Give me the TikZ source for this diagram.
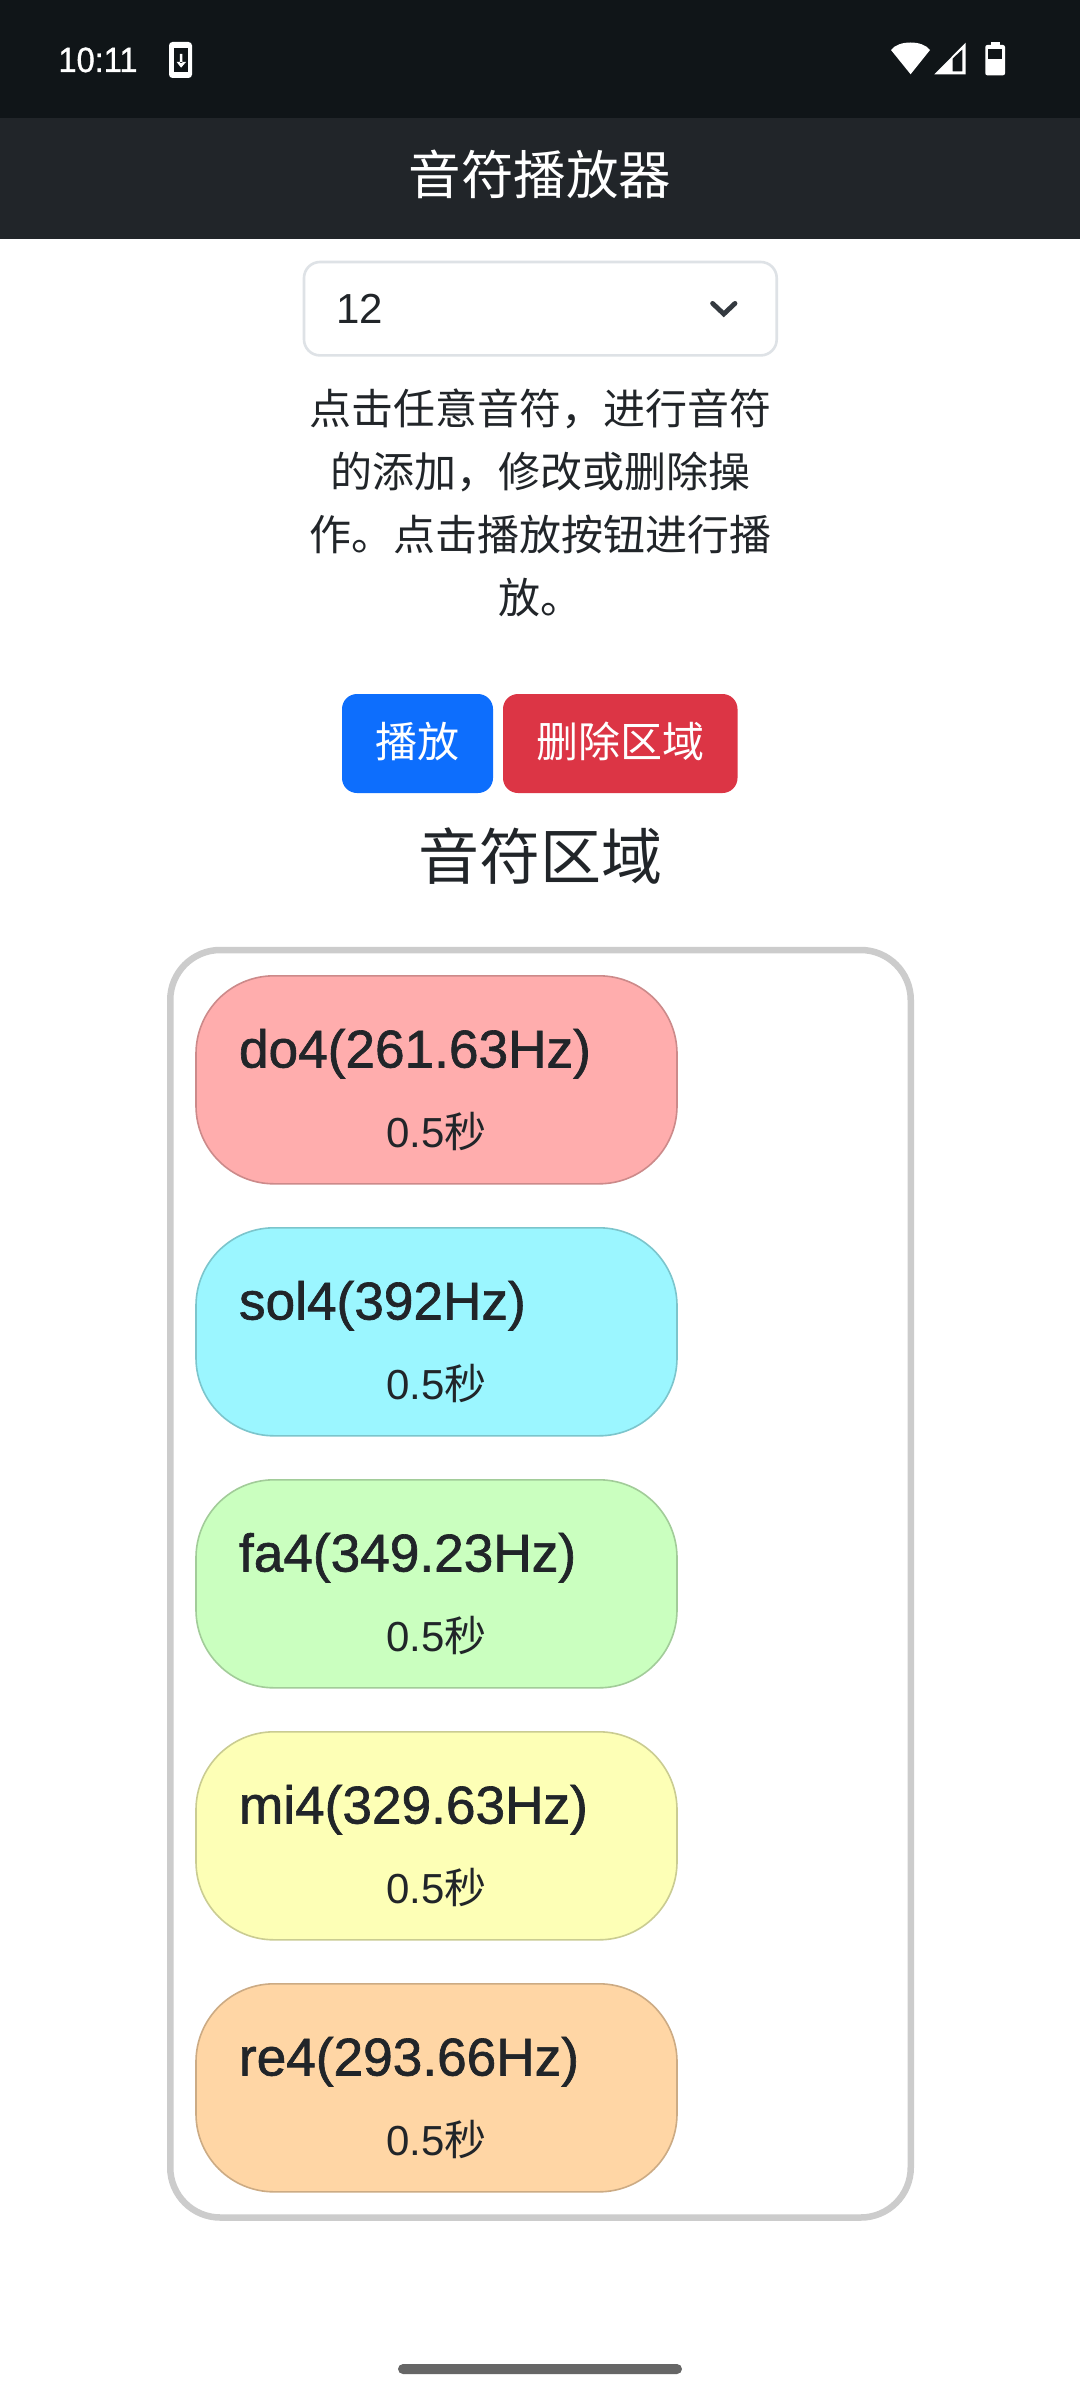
\documentclass[tikz,border=0pt]{standalone}
\usepackage{fontspec}
\usepackage{graphicx}
\setmainfont{Liberation Sans}
\newfontfamily\cjk{Noto Sans CJK SC}
\newfontfamily\notefont[FakeBold=1.2]{Liberation Sans}
\newfontfamily\clockfont[FakeBold=1]{Liberation Sans}
\definecolor{ink}{HTML}{212529}
\definecolor{statusbg}{HTML}{101518}
\definecolor{appbg}{HTML}{212529}
\definecolor{selborder}{HTML}{DEE2E6}
\definecolor{chev}{HTML}{343A40}
\definecolor{btnblue}{HTML}{0D6EFD}
\definecolor{btnred}{HTML}{DC3545}
\definecolor{frame}{HTML}{CCCCCC}
\definecolor{homebar}{HTML}{666666}
\definecolor{pa}{HTML}{FFADAD}
\definecolor{pb}{HTML}{9BF6FF}
\definecolor{pc}{HTML}{CAFFBF}
\definecolor{pd}{HTML}{FDFFB6}
\definecolor{pe}{HTML}{FFD6A5}
\tikzset{
  txt/.style={inner sep=0pt,outer sep=0pt},
  body/.style={txt,anchor=base,text=ink,font=\fontsize{42}{50}\selectfont\cjk},
  pill/.style={rectangle,draw=#1!80!black,fill=#1,line width=1.6pt,rounded corners=78pt,minimum width=481pt,minimum height=208pt,anchor=north west,inner sep=0pt,outer sep=0pt},
  notename/.style={txt,anchor=base west,text=ink,font=\fontsize{53.2}{60}\selectfont\notefont},
  notedur/.style={txt,anchor=base,text=ink,font=\fontsize{42}{50}\selectfont},
  btn/.style={rectangle,rounded corners=15pt,inner sep=0pt,outer sep=0pt,minimum height=99pt,anchor=north west,text=white,font=\fontsize{42}{50}\selectfont\cjk}
}
\newcommand{\notepill}[5]{%
  \node[pill=#2,minimum width=481pt] (p#1) at (196,#3+0.8) {};
  \node[notename] (n#1) at (239,#3+92.5) {#4};
  \node[notedur] (d#1) at (436.5,#3+172) {0.5{\cjk 秒}};
}
\begin{document}
\begin{tikzpicture}[x=1pt,y=-1pt]
\useasboundingbox (0,0) rectangle (1080,2400);
\fill[white] (0,0) rectangle (1080,2400);
\fill[statusbg] (0,0) rectangle (1080,118);
\fill[appbg] (0,118) rectangle (1080,239);
% status bar
\node[txt,anchor=base west,text=white,font=\fontsize{35}{40}\selectfont\clockfont] (clock) at (58.5,72) {\scalebox{0.93}[1]{10:11}};
\fill[white,rounded corners=3.5pt] (169,42) rectangle (192,78);
\fill[statusbg] (174,48) rectangle (188,72);
\fill[white] (179.8,54) rectangle (182.4,63) (176.7,62) -- (186,62) -- (181.1,67.7) -- cycle;
\fill[white] (891,50) .. controls (898,40) and (923,40) .. (930,50) -- (910.6,74.3) -- cycle;
\fill[white,even odd rule] (965.7,42.7) -- (965.7,74.3) -- (934.3,74.3) -- cycle (962.3,49.3) -- (962.3,71.3) -- (952.7,71.3) -- (952.7,58.3) -- cycle;
\fill[white,rounded corners=2pt] (985.3,45) rectangle (1005,75.3);
\fill[white] (990.7,42.3) rectangle (1000,48);
\fill[statusbg] (988.3,48.7) rectangle (1002,59.3);
% app bar
\node[txt,text=white,font=\fontsize{52.5}{60}\selectfont\cjk,anchor=base] (title) at (540,195) {音符播放器};
% select
\node[rectangle,draw=selborder,fill=white,line width=2.6pt,rounded corners=16pt,minimum width=472.7pt,minimum height=93.4pt,inner sep=0pt,outer sep=0pt] (sel) at (540.35,308.7) {};
\node[txt,anchor=base west,text=ink,font=\fontsize{42}{50}\selectfont] (seltxt) at (336,323) {12};
\draw[color=chev,line width=4.8pt,line cap=round,line join=miter] (712.6,303.4) -- (723.8,314) -- (735,303.4);
% description
\node[body] (l1) at (540,424) {点击任意音符，进行音符};
\node[body] (l2) at (540,487) {的添加，修改或删除操};
\node[body] (l3) at (540,550) {作。点击播放按钮进行播};
\node[body] (l4) at (540,613) {放。};
% buttons
\node[btn,fill=btnblue,minimum width=151pt] (play) at (342,694) {\raisebox{2pt}[\height][\depth]{播放}};
\node[btn,fill=btnred,minimum width=234.5pt] (del) at (503,694) {\raisebox{2pt}[\height][\depth]{删除区域}};
% heading
\node[txt,anchor=base,text=ink,font=\fontsize{61}{70}\selectfont\cjk] (head) at (540,879.5) {音符区域};
% frame
\node[rectangle,draw=frame,fill=white,line width=6.5pt,rounded corners=50pt,minimum width=740.5pt,minimum height=1267.5pt,inner sep=0pt,outer sep=0pt,anchor=north west] (area) at (170.25,950) {};
% notes
\notepill{a}{pa}{975}{do4(261.63Hz)}{}
\notepill{b}{pb}{1227}{sol4(392Hz)}{}
\notepill{c}{pc}{1479}{fa4(349.23Hz)}{}
\notepill{d}{pd}{1731}{mi4(329.63Hz)}{}
\notepill{e}{pe}{1983}{re4(293.66Hz)}{}
% home indicator
\fill[homebar,rounded corners=5pt] (398,2364) rectangle (682,2374);
\end{tikzpicture}
\end{document}
